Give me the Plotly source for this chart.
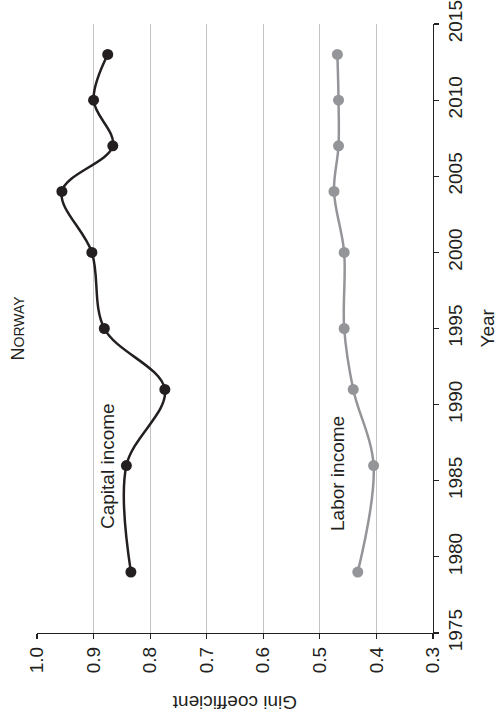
import plotly.graph_objects as go

years = [1979, 1986, 1991, 1995, 2000, 2004, 2007, 2010, 2013]
capital_income = [0.834, 0.842, 0.774, 0.881, 0.903, 0.956, 0.866, 0.900, 0.875]
labor_income = [0.433, 0.405, 0.441, 0.457, 0.457, 0.475, 0.467, 0.467, 0.469]

gini_ticks = [1.0, 0.9, 0.8, 0.7, 0.6, 0.5, 0.4, 0.3]
gini_ticktext = ["1.0", "0.9", "0.8", "0.7", "0.6", "0.5", "0.4", "0.3"]
year_ticks = [1975, 1980, 1985, 1990, 1995, 2000, 2005, 2010, 2015]

FONT = "Liberation Sans, Arial, Helvetica, sans-serif"
BLACK = "#231f20"
GRAY = "#939598"

fig = go.Figure()
fig.add_trace(go.Scatter(
    x=capital_income, y=years, mode="lines+markers",
    line=dict(color=BLACK, width=2.5, shape="spline", smoothing=1),
    marker=dict(color=BLACK, size=11), hoverinfo="skip", showlegend=False))
fig.add_trace(go.Scatter(
    x=labor_income, y=years, mode="lines+markers",
    line=dict(color=GRAY, width=2.5, shape="spline", smoothing=1),
    marker=dict(color=GRAY, size=11), hoverinfo="skip", showlegend=False))

fig.update_layout(
    width=500, height=724,
    margin=dict(l=37, r=67, t=24, b=91, autoexpand=False),
    paper_bgcolor="white", plot_bgcolor="white",
    font=dict(family=FONT, size=19, color=BLACK),
    xaxis=dict(
        range=[1.0, 0.3], tickvals=gini_ticks, ticktext=gini_ticktext,
        tickangle=-90, ticks="outside", ticklen=5, tickcolor=BLACK, tickwidth=1.2,
        showline=True, linecolor=BLACK, linewidth=1.3, automargin=False,
        ticklabeloverflow="allow",
        showgrid=True, gridcolor="#c3c3c3", gridwidth=1, zeroline=False,
        tickfont=dict(size=19, color=BLACK, family=FONT),
    ),
    yaxis=dict(
        range=[1975, 2015], tickvals=year_ticks, side="right",
        tickangle=-90, ticks="outside", ticklen=5, tickcolor=BLACK, tickwidth=1.2,
        showline=True, linecolor=BLACK, linewidth=1.3, automargin=False,
        ticklabeloverflow="allow",
        showgrid=False, zeroline=False,
        tickfont=dict(size=19, color=BLACK, family=FONT),
    ),
)

annos = [
    dict(text="Gini coefficient", x=0.5, y=-0.113, textangle=180, size=19),
    dict(text="Year", x=(487 - 37) / 396, y=0.5, textangle=-90, size=19),
    dict(text="Capital income", x=(107 - 37) / 396, y=(633 - 466) / 609, textangle=-90, size=19),
    dict(text="Labor income", x=(337 - 37) / 396, y=(633 - 474) / 609, textangle=-90, size=19),
    dict(text="N<span style='font-size:14px'>ORWAY</span>", x=(17 - 37) / 396, y=0.5, textangle=-90, size=18),
]
for a in annos:
    size = a.pop("size")
    fig.add_annotation(xref="paper", yref="paper", showarrow=False,
                       xanchor="center", yanchor="middle",
                       font=dict(family=FONT, size=size, color=BLACK), **a)

fig.write_html("out.html", config={"displayModeBar": False, "staticPlot": True},
               post_script="document.body.style.margin='0';")
